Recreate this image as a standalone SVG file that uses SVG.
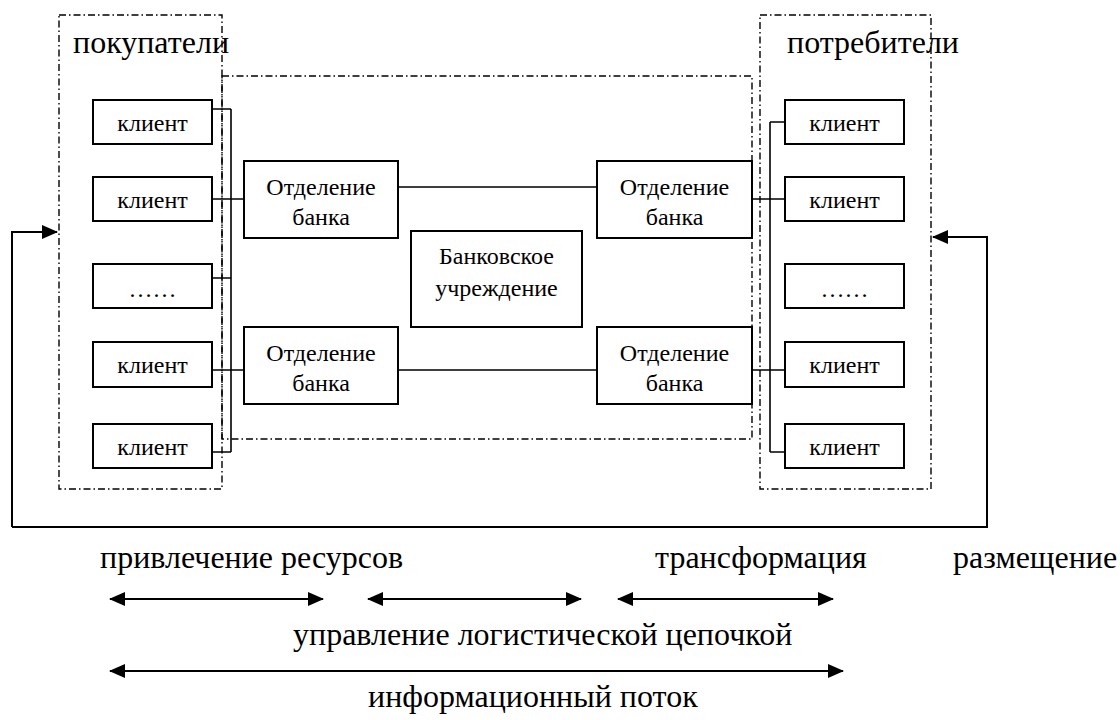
<svg xmlns="http://www.w3.org/2000/svg" width="1120" height="720" viewBox="0 0 1120 720">
<defs>
<style>
.dd{fill:none;stroke:#000;stroke-width:1.4;stroke-dasharray:7 3 1.5 3}
.box{fill:#fff;stroke:#000;stroke-width:2}
.ln{fill:none;stroke:#000;stroke-width:1.6}
.fl{fill:none;stroke:#000;stroke-width:2}
.t{font-family:"Liberation Serif","Times New Roman",serif;font-size:24px;fill:#000;text-anchor:middle}
.h{font-family:"Liberation Serif","Times New Roman",serif;font-size:32px;fill:#000}
</style>
<marker id="ah" viewBox="0 0 16 16" refX="15" refY="8" markerWidth="16" markerHeight="16" markerUnits="userSpaceOnUse" orient="auto-start-reverse">
<path d="M0,1 L16,8 L0,15 Z" fill="#000"/>
</marker>
</defs>
<rect width="1120" height="720" fill="#fff"/>

<g id="groups">
<rect id="buyers" class="dd" x="59" y="15" width="163" height="474"/>
<rect id="bank-area" class="dd" x="222" y="76" width="530" height="363"/>
<rect id="consumers" class="dd" x="760" y="15" width="171" height="474"/>
<text class="h" x="73" y="53">покупатели</text>
<text class="h" x="787" y="53">потребители</text>
</g>

<g id="connectors">
<path class="ln" d="M231,109 V452 M212,109 H231 M212,199 H244 M212,278 H231 M212,370 H244 M212,452 H231"/>
<path class="ln" d="M398,187 H597 M398,370 H597"/>
<path class="ln" d="M770,122 V452 M770,122 H785 M752,199 H785 M752,370 H785 M770,452 H785"/>
<path class="fl" d="M12,527 V232 H57" marker-end="url(#ah)"/>
<path class="fl" d="M12,527 H987 V237 H933" marker-end="url(#ah)"/>
<path class="fl" d="M110,599 H323" marker-start="url(#ah)" marker-end="url(#ah)"/>
<path class="fl" d="M368,599 H581" marker-start="url(#ah)" marker-end="url(#ah)"/>
<path class="fl" d="M618,599 H833" marker-start="url(#ah)" marker-end="url(#ah)"/>
<path class="fl" d="M110,671 H843" marker-start="url(#ah)" marker-end="url(#ah)"/>
</g>

<g id="client-l1"><rect class="box" x="93" y="100" width="119" height="44"/><text class="t" x="152.5" y="131">клиент</text></g>
<g id="client-l2"><rect class="box" x="93" y="177" width="119" height="44"/><text class="t" x="152.5" y="208">клиент</text></g>
<g id="client-l3"><rect class="box" x="93" y="264" width="119" height="44"/><text class="t" x="152.5" y="297">……</text></g>
<g id="client-l4"><rect class="box" x="93" y="342" width="119" height="45"/><text class="t" x="152.5" y="373">клиент</text></g>
<g id="client-l5"><rect class="box" x="93" y="424" width="119" height="44"/><text class="t" x="152.5" y="455">клиент</text></g>

<g id="client-r1"><rect class="box" x="785" y="100" width="119" height="44"/><text class="t" x="844.5" y="131">клиент</text></g>
<g id="client-r2"><rect class="box" x="785" y="177" width="119" height="44"/><text class="t" x="844.5" y="208">клиент</text></g>
<g id="client-r3"><rect class="box" x="785" y="264" width="119" height="44"/><text class="t" x="844.5" y="297">……</text></g>
<g id="client-r4"><rect class="box" x="785" y="342" width="119" height="45"/><text class="t" x="844.5" y="373">клиент</text></g>
<g id="client-r5"><rect class="box" x="785" y="424" width="119" height="44"/><text class="t" x="844.5" y="455">клиент</text></g>

<g id="branch-l1"><rect class="box" x="244" y="161" width="154" height="77"/><text class="t" x="321" y="195">Отделение</text><text class="t" x="321" y="225">банка</text></g>
<g id="branch-l2"><rect class="box" x="244" y="327" width="154" height="77"/><text class="t" x="321" y="361">Отделение</text><text class="t" x="321" y="391">банка</text></g>
<g id="branch-r1"><rect class="box" x="597" y="161" width="155" height="77"/><text class="t" x="674.5" y="195">Отделение</text><text class="t" x="674.5" y="225">банка</text></g>
<g id="branch-r2"><rect class="box" x="597" y="327" width="155" height="77"/><text class="t" x="674.5" y="361">Отделение</text><text class="t" x="674.5" y="391">банка</text></g>
<g id="bank"><rect class="box" x="411" y="231" width="171" height="96"/><text class="t" x="496.5" y="264">Банковское</text><text class="t" x="496.5" y="296">учреждение</text></g>

<g id="labels">
<text class="h" x="100" y="568">привлечение ресурсов</text>
<text class="h" x="655" y="568">трансформация</text>
<text class="h" x="953" y="568">размещение</text>
<text class="h" x="293" y="645">управление логистической цепочкой</text>
<text class="h" x="368" y="707">информационный поток</text>
</g>
</svg>
